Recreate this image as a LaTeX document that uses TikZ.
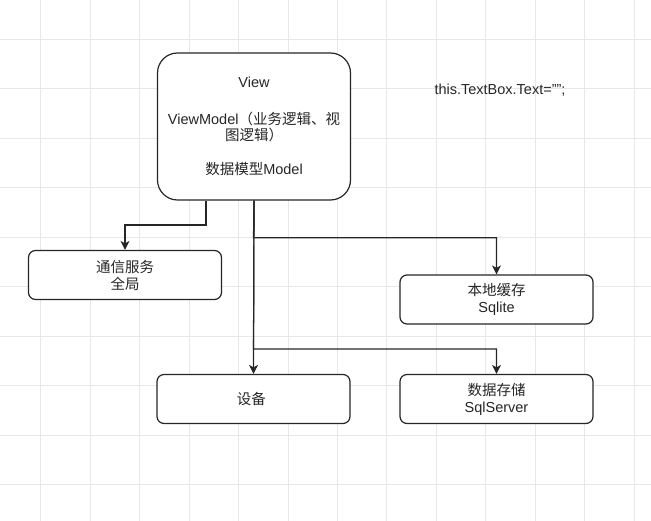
\documentclass[tikz,border=0pt]{standalone}
\usepackage{fontspec}
\setmainfont{Liberation Sans}
\newfontfamily\cjk{Noto Sans CJK SC}
\usetikzlibrary{arrows.meta,positioning}
\usepackage{xcolor}

\begin{document}
\begin{tikzpicture}[x=1pt, y=-1pt,
    box/.style={
        rectangle,
        rounded corners=7pt,
        draw=black!85,
        line width=1.2pt,
        fill=white,
        minimum width=193pt,
        minimum height=49pt,
        inner sep=0pt,
        align=center,
        font=\fontsize{14.5}{17}\selectfont,
        text=black!85
    },
    link/.style={-{Stealth[length=9pt, width=9pt, inset=2.5pt]}, black!85, line width=1.2pt}
]
    \useasboundingbox (0,0) rectangle (651,521);
    % background grid
    \foreach \gx in {0,...,12}
        \draw[black!9, line width=0.9pt] (40.7+49.45*\gx,0) -- (40.7+49.45*\gx,521);
    \foreach \gy in {0,...,9}
        \draw[black!9, line width=0.9pt] (0,39.3+49.5*\gy) -- (651,39.3+49.5*\gy);

    \node (view_model) [box, rounded corners=20pt, minimum height=147pt,
        font=\fontsize{14.5}{15.5}\selectfont, shift={(254, 126.5)}]
    {
        View\\[22pt]
        ViewModel{\cjk （业务逻辑、视}\\
        {\cjk 图逻辑）}\\[19pt]
        {\cjk 数据模型}Model
    };
    \node (text_note) [font=\fontsize{14.5}{16}\selectfont, text=black!85, shift={(500, 90)}]
    {
        this.TextBox.Text=\symbol{34}\symbol{34};
    };
    \node (comm_service) [box, shift={(125, 275)}]
    {
        {\cjk 通信服务}\\{\cjk 全局}
    };
    \node (local_cache) [box, shift={(496.5, 299.5)}]
    {
        {\cjk 本地缓存}\\Sqlite
    };
    \node (device) [box, shift={(253.5, 399)}]
    {
        {\cjk 设备}
    };
    \node (data_store) [box, shift={(496.5, 399)}]
    {
        {\cjk 数据存储}\\SqlServer
    };
    \coordinate (comm_out) at ([xshift=-48pt]view_model.south);
    \coordinate (comm_bend) at (125, 225);
    \coordinate (cache_bend) at (253.5, 237.7);
    \coordinate (store_bend) at (253.5, 349);
    \draw[link] (comm_out) |- (comm_bend) -- (comm_service.north);
    \draw[link] (view_model.south) -- (device.north);
    \draw[link] (view_model.south) -- (cache_bend) -| (local_cache.north);
    \draw[link] (view_model.south) -- (store_bend) -| (data_store.north);
\end{tikzpicture}
\end{document}
